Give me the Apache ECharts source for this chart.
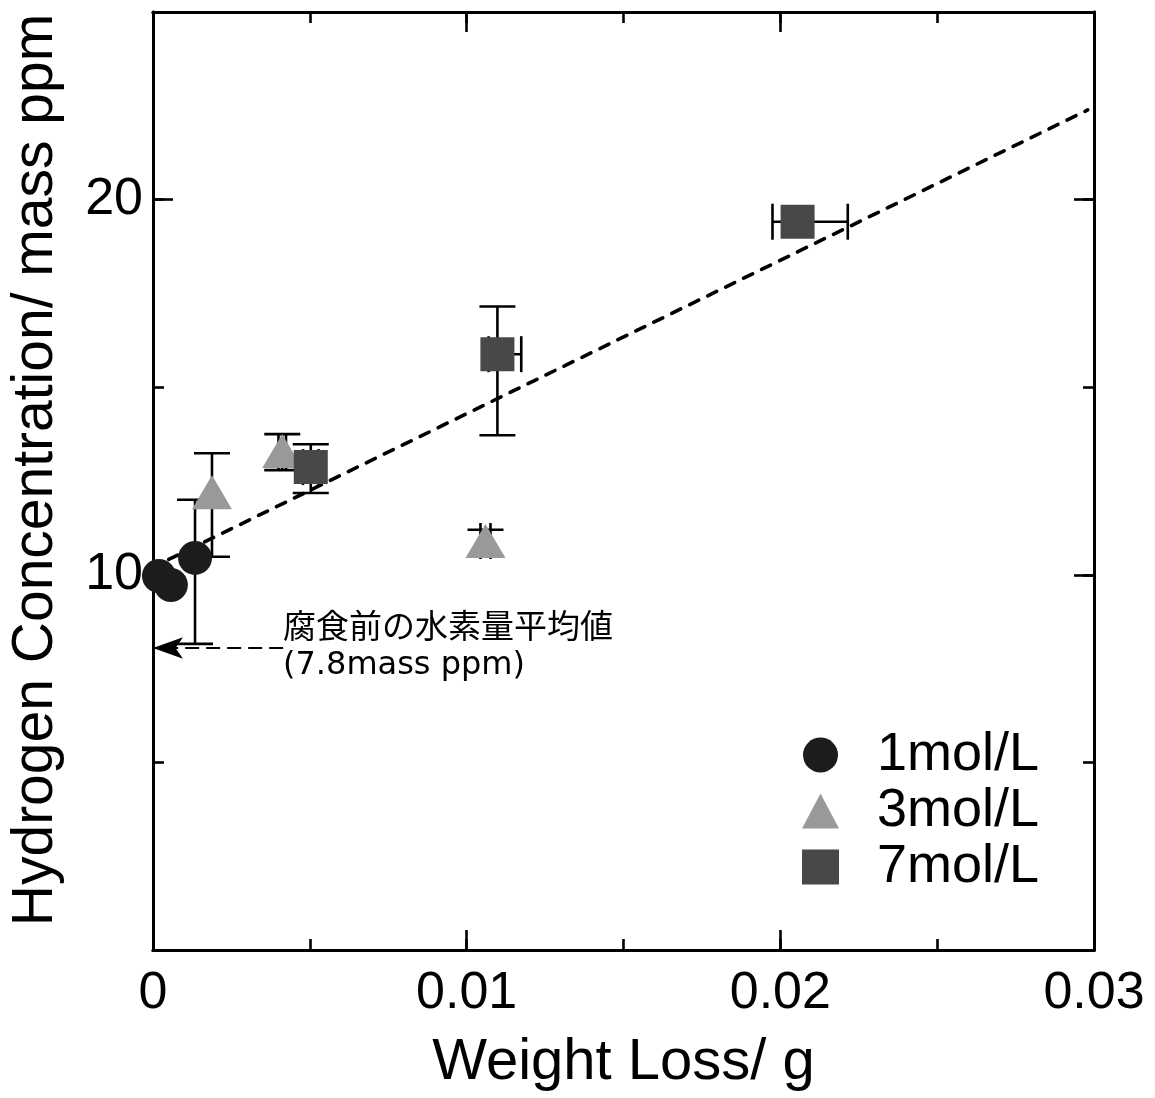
<!DOCTYPE html>
<html>
<head>
<meta charset="utf-8">
<script src="https://cdn.jsdelivr.net/npm/echarts@6/dist/echarts.min.js"></script>
<style>
html,body{margin:0;padding:0;background:#fff;}
#chart{width:1155px;height:1098px;}
</style>
</head>
<body>
<div id="chart"></div>
<script>
// ---- data ----
const groups = ['1mol/L', '3mol/L', '7mol/L'];

// 1 mol/L
const wl1   = [0.00019, 0.00057, 0.00134];
const hc1   = [9.97, 9.73, 10.45];
const wl1Lo = [0.00019, 0.00057, 0.00134];
const wl1Hi = [0.00019, 0.00057, 0.00134];
const hc1Lo = [9.97, 9.73, 8.16];
const hc1Hi = [9.97, 9.73, 12.0];

// 3 mol/L
const wl3   = [0.00188, 0.00412, 0.0106];
const hc3   = [12.2, 13.3, 10.9];
const wl3Lo = [0.00188, 0.0040, 0.01044];
const wl3Hi = [0.00188, 0.00424, 0.01076];
const hc3Lo = [10.48, 12.79, 10.5];
const hc3Hi = [13.24, 13.75, 11.2];

// 7 mol/L
const wl7   = [0.00503, 0.01098, 0.02055];
const hc7   = [12.87, 15.88, 19.41];
const wl7Lo = [0.00478, 0.0107, 0.01975];
const wl7Hi = [0.00528, 0.01174, 0.02215];
const hc7Lo = [12.18, 13.72, 19.41];
const hc7Hi = [13.48, 17.15, 19.41];

// dashed fit line end points
const fitX = [0.0005, 0.0298];
const fitY = [10.41, 22.39];

// reference (before corrosion) arrow
const refX = [0.00415, 0];
const refY = 8.05;
const refText1 = '腐食前の水素量平均値';
const refText2 = '(7.8mass ppm)';

// axis tick labels
const xTickLabels = ['0', '0.01', '0.02', '0.03'];
const yTickLabels = {10: '10', 20: '20'};

// ---- chart ----
const FONT = '"Liberation Sans", Arial, sans-serif';
const chart = echarts.init(document.getElementById('chart'), null, {renderer: 'canvas'});

function pack(x, y, xl, xh, yl, yh) {
  return x.map((v, i) => [v, y[i], xl[i], xh[i], yl[i], yh[i]]);
}

const CAP = 18;
function renderErr(params, api) {
  const x = api.value(0), y = api.value(1);
  const xl = api.value(2), xh = api.value(3), yl = api.value(4), yh = api.value(5);
  const style = {stroke: '#000', lineWidth: 2.6, fill: null};
  const ch = [];
  const seg = (a, b) => ch.push({type: 'line', shape: {x1: a[0], y1: a[1], x2: b[0], y2: b[1]}, style: style});
  if (yl !== yh) {
    const a = api.coord([x, yl]), b = api.coord([x, yh]);
    seg(a, b);
    if (yl !== y) seg([a[0] - CAP, a[1]], [a[0] + CAP, a[1]]);
    if (yh !== y) seg([b[0] - CAP, b[1]], [b[0] + CAP, b[1]]);
  }
  if (xl !== xh) {
    const a = api.coord([xl, y]), b = api.coord([xh, y]);
    seg(a, b);
    if (xl !== x) seg([a[0], a[1] - CAP], [a[0], a[1] + CAP]);
    if (xh !== x) seg([b[0], b[1] - CAP], [b[0], b[1] + CAP]);
  }
  return {type: 'group', children: ch};
}

function errSeries(data) {
  return {
    type: 'custom', renderItem: renderErr, data: data, z: 1, silent: true,
    encode: {x: [0, 2, 3], y: [1, 4, 5]},
    xAxisIndex: 0, yAxisIndex: 0, clip: false
  };
}

const axisLineStyle = {show: true, onZero: false, lineStyle: {color: '#000', width: 3}};
const tickStyle = {color: '#000', width: 2.6};

function xAx(pos, interval, len, withLabel) {
  const a = {
    type: 'value', min: 0, max: 0.03, interval: interval, position: pos, gridIndex: 0,
    axisLine: axisLineStyle,
    axisTick: {show: true, inside: true, length: len, lineStyle: tickStyle},
    splitLine: {show: false},
    axisLabel: {show: false}
  };
  if (withLabel) {
    a.axisLabel = {
      show: true, margin: 18, color: '#000', fontSize: 52, fontFamily: FONT,
      formatter: v => xTickLabels[Math.round(v / 0.01)] || ''
    };
    a.name = 'Weight Loss/ g';
    a.nameLocation = 'middle';
    a.nameGap = 84;
    a.nameTextStyle = {color: '#000', fontSize: 58, fontFamily: FONT};
  }
  return a;
}
function yAx(pos, interval, len, withLabel) {
  const a = {
    type: 'value', min: 0, max: 25, interval: interval, position: pos, gridIndex: 0,
    axisLine: axisLineStyle,
    axisTick: {show: true, inside: true, length: len, lineStyle: tickStyle},
    splitLine: {show: false},
    axisLabel: {show: false}
  };
  if (withLabel) {
    a.axisLabel = {
      show: true, margin: 10, color: '#000', fontSize: 52, fontFamily: FONT,
      formatter: v => yTickLabels[Math.round(v)] || ''
    };
    a.name = 'Hydrogen Concentration/ mass ppm';
    a.nameLocation = 'middle';
    a.nameGap = 88;
    a.nameTextStyle = {color: '#000', fontSize: 57, fontFamily: FONT, padding: [0, 0, 0, 22]};
  }
  return a;
}

const option = {
  backgroundColor: '#fff',
  animation: false,
  grid: {left: 153, right: 61, top: 12, bottom: 148, containLabel: false},
  xAxis: [
    xAx('bottom', 0.01, 20, true),
    xAx('bottom', 0.005, 11, false),
    xAx('top', 0.01, 20, false),
    xAx('top', 0.005, 11, false)
  ],
  yAxis: [
    yAx('left', 10, 20, true),
    yAx('left', 5, 11, false),
    yAx('right', 10, 20, false),
    yAx('right', 5, 11, false)
  ],
  legend: {
    data: groups, orient: 'vertical', left: 797, top: 722,
    itemWidth: 37, itemHeight: 35, itemGap: 0,
    textStyle: {color: '#000', fontSize: 54, fontFamily: FONT, lineHeight: 56, padding: [0, 0, 0, 33]}
  },
  graphic: [
    {type: 'text', left: 283, top: 609, style: {text: refText1, font: '33px "Noto Sans CJK JP"', fill: '#000'}},
    {type: 'text', left: 283, top: 650, style: {text: refText2, font: '32px "DejaVu Sans"', fill: '#000'}}
  ],
  series: [
    {
      type: 'line', data: fitX.map((x, i) => [x, fitY[i]]), symbol: 'none', z: 1, silent: true,
      lineStyle: {color: '#000', width: 3.6, type: [10, 10], cap: 'round'}
    },
    {
      type: 'line', data: [], symbol: 'none', silent: true,
      markLine: {
        silent: true, symbol: ['none', 'arrow'], symbolSize: [16, 30],
        label: {show: false},
        lineStyle: {color: '#000', width: 2, type: [14, 7]},
        data: [[{coord: [refX[0], refY]}, {coord: [refX[1], refY]}]]
      }
    },
    errSeries(pack(wl1, hc1, wl1Lo, wl1Hi, hc1Lo, hc1Hi)),
    errSeries(pack(wl3, hc3, wl3Lo, wl3Hi, hc3Lo, hc3Hi)),
    errSeries(pack(wl7, hc7, wl7Lo, wl7Hi, hc7Lo, hc7Hi)),
    {
      name: groups[0], type: 'scatter', z: 3, symbol: 'circle', symbolSize: 34,
      itemStyle: {color: '#1c1c1c', opacity: 1},
      data: wl1.map((x, i) => [x, hc1[i]])
    },
    {
      name: groups[1], type: 'scatter', z: 3, symbol: 'triangle', symbolSize: [40, 34],
      itemStyle: {color: '#999999', opacity: 1},
      data: wl3.map((x, i) => [x, hc3[i]])
    },
    {
      name: groups[2], type: 'scatter', z: 3, symbol: 'rect', symbolSize: 34,
      itemStyle: {color: '#484848', opacity: 1},
      data: wl7.map((x, i) => [x, hc7[i]])
    }
  ]
};
chart.setOption(option);
</script>
</body>
</html>
